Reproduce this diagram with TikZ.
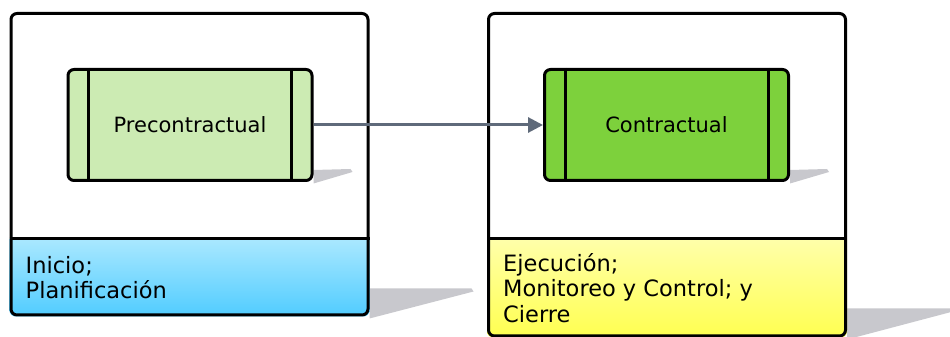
\documentclass[tikz,border=0pt]{standalone}
\usepackage{fontspec}
\setmainfont{DejaVu Sans}
\usetikzlibrary{arrows.meta, positioning, calc, backgrounds}

\definecolor{verdeclaro}{RGB}{204,235,179}
\definecolor{verde}{RGB}{125,209,60}
\definecolor{azularriba}{RGB}{170,232,255}
\definecolor{azulabajo}{RGB}{80,204,255}
\definecolor{amarilloarriba}{RGB}{255,255,170}
\definecolor{amarilloabajo}{RGB}{255,255,80}
\definecolor{sombra}{RGB}{200,200,205}
\definecolor{flecha}{RGB}{95,106,122}

\tikzset{
  fase/.style={draw, line width=3pt, rounded corners=6pt, inner sep=0pt, minimum width=357pt},
  etapa/.style={draw, line width=3pt, rounded corners=6pt, inner sep=0pt,
    minimum width=244pt, minimum height=111pt, font=\fontsize{21}{26}\selectfont},
  texto/.style={inner sep=0pt, align=left, anchor=west, font=\fontsize{22.5}{25.5}\selectfont},
  raya/.style={line width=3pt}
}

\begin{document}
\begin{tikzpicture}[x=1pt, y=1pt]
    \useasboundingbox (0,0) rectangle (950,337);
    % fases
    \node[fase, minimum height=301.5pt] (faseA) at (189.5,172.75) {};
    \node[fase, minimum height=322.5pt] (faseB) at (667,162.25) {};
    % etapas dentro de cada fase
    \node[etapa, fill=verdeclaro] (pre) at (190,212) {Precontractual};
    \node[etapa, fill=verde] (con) at (666.5,212) {Contractual};
    \foreach \n in {pre,con} {
        \draw[raya] ([xshift=22pt]\n.north west) -- ([xshift=22pt]\n.south west);
        \draw[raya] ([xshift=-22pt]\n.north east) -- ([xshift=-22pt]\n.south east);
      }
    % franjas inferiores
    \coordinate (divA) at ($(faseA.south west)+(0,78)$);
    \coordinate (divAe) at ($(faseA.south east)+(0,78)$);
    \coordinate (divB) at ($(faseB.south west)+(0,99)$);
    \coordinate (divBe) at ($(faseB.south east)+(0,99)$);
    \begin{scope}[on background layer]
      % sombras
      \fill[sombra] ($(pre.south east)+(0,12)$) -- ++(37,1) -- ++(2,-3) -- ($(pre.south east)+(0,-1.5)$) -- cycle;
      \fill[sombra] ($(con.south east)+(0,12)$) -- ++(37,1) -- ++(2,-3) -- ($(con.south east)+(0,-1.5)$) -- cycle;
      \fill[sombra] ($(faseA.south east)+(0,28)$) -- ++(102,0) -- ++(2,-3) -- ($(faseA.south east)+(0,-2)$) -- cycle;
      \fill[sombra] ($(faseB.south east)+(0,29)$) -- ++(104,0) -- ++(2,-3) -- ($(faseB.south east)+(0,-2)$) -- cycle;
      \shade[top color=azularriba, bottom color=azulabajo]
        (divA) [rounded corners=6pt] -- (faseA.south west) -- (faseA.south east) [sharp corners] -- (divAe) -- cycle;
      \shade[top color=amarilloarriba, bottom color=amarilloabajo]
        (divB) [rounded corners=6pt] -- (faseB.south west) -- (faseB.south east) [sharp corners] -- (divBe) -- cycle;
    \end{scope}
    \draw[raya] (divA) -- (divAe);
    \draw[raya] (divB) -- (divBe);
    \node[texto] (infoA) at ($(faseA.south west)+(16,39)$) {Inicio;\\Planificación};
    \node[texto] (infoB) at ($(faseB.south west)+(16,49.5)$) {Ejecución;\\Monitoreo y Control; y\\Cierre};
    % flecha
    \draw[raya, flecha, -{Triangle[length=15pt, width=15pt]}] (pre.east) -- (con.west);
  \end{tikzpicture}
\end{document}
